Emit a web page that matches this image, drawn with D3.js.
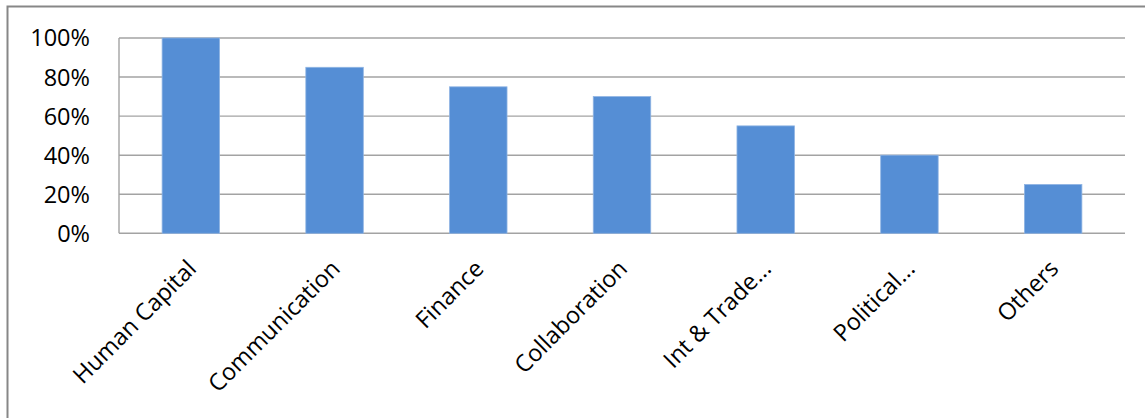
<!DOCTYPE html>
<html>
<head>
<meta charset="utf-8">
<script src="https://cdn.jsdelivr.net/npm/d3@7/dist/d3.min.js"></script>
<style>
  html, body { margin: 0; padding: 0; background: #fff; }
  svg { display: block; }
</style>
</head>
<body>
<svg id="chart" width="1145" height="418"></svg>
<script>
const categories = ["Human Capital", "Communication", "Finance", "Collaboration", "Int & Trade...", "Political...", "Others"];
const values = [100, 85, 75, 70, 55, 40, 25];
const yTicks = [0, 20, 40, 60, 80, 100];

const svg = d3.select("#chart");
const W = 1145, H = 418;
const mLeft = 119, mRight = 1125, mTop = 38, mBottom = 233.3;
const font = "'Open Sans', Lato, sans-serif";

// outer frame
svg.append("rect")
  .attr("x", 7.5).attr("y", 6.5)
  .attr("width", W + 20).attr("height", H + 20)
  .attr("fill", "#fff").attr("stroke", "#878787").attr("stroke-width", 2);

const x = d3.scaleBand().domain(categories).range([mLeft, mRight]).padding(0);
const y = d3.scaleLinear().domain([0, 100]).range([mBottom, mTop]);

// gridlines
svg.append("g")
  .selectAll("line").data(yTicks).join("line")
  .attr("x1", mLeft).attr("x2", mRight)
  .attr("y1", d => y(d)).attr("y2", d => y(d))
  .attr("stroke", "#a3a3a3").attr("stroke-width", 1.4);

// y axis line
svg.append("line")
  .attr("x1", mLeft).attr("x2", mLeft)
  .attr("y1", y(100)).attr("y2", y(0))
  .attr("stroke", "#a3a3a3").attr("stroke-width", 1.4);

// y tick labels
svg.append("g")
  .selectAll("text").data(yTicks).join("text")
  .attr("x", 90).attr("y", d => y(d))
  .attr("dy", "0.36em")
  .attr("text-anchor", "end")
  .attr("font-family", font).attr("font-size", 23.5)
  .attr("fill", "#000")
  .text(d => d + "%");

// bars
const bw = x.bandwidth() * 0.4;
svg.append("g")
  .selectAll("rect").data(categories).join("rect")
  .attr("x", d => x(d) + (x.bandwidth() - bw) / 2)
  .attr("width", bw)
  .attr("y", (d, i) => y(values[i]))
  .attr("height", (d, i) => y(0) - y(values[i]))
  .attr("fill", "#558ed5")
  .attr("stroke", "#8fb4e3").attr("stroke-width", 0.8);

// x labels
svg.append("g")
  .selectAll("text").data(categories).join("text")
  .attr("transform", d => `translate(${x(d) + x.bandwidth() / 2 + 1},${mBottom + 31}) rotate(-45)`)
  .attr("text-anchor", "end")
  .attr("dy", "0.35em")
  .attr("font-family", font).attr("font-size", 23.5)
  .attr("fill", "#000")
  .text(d => d);
</script>
</body>
</html>
